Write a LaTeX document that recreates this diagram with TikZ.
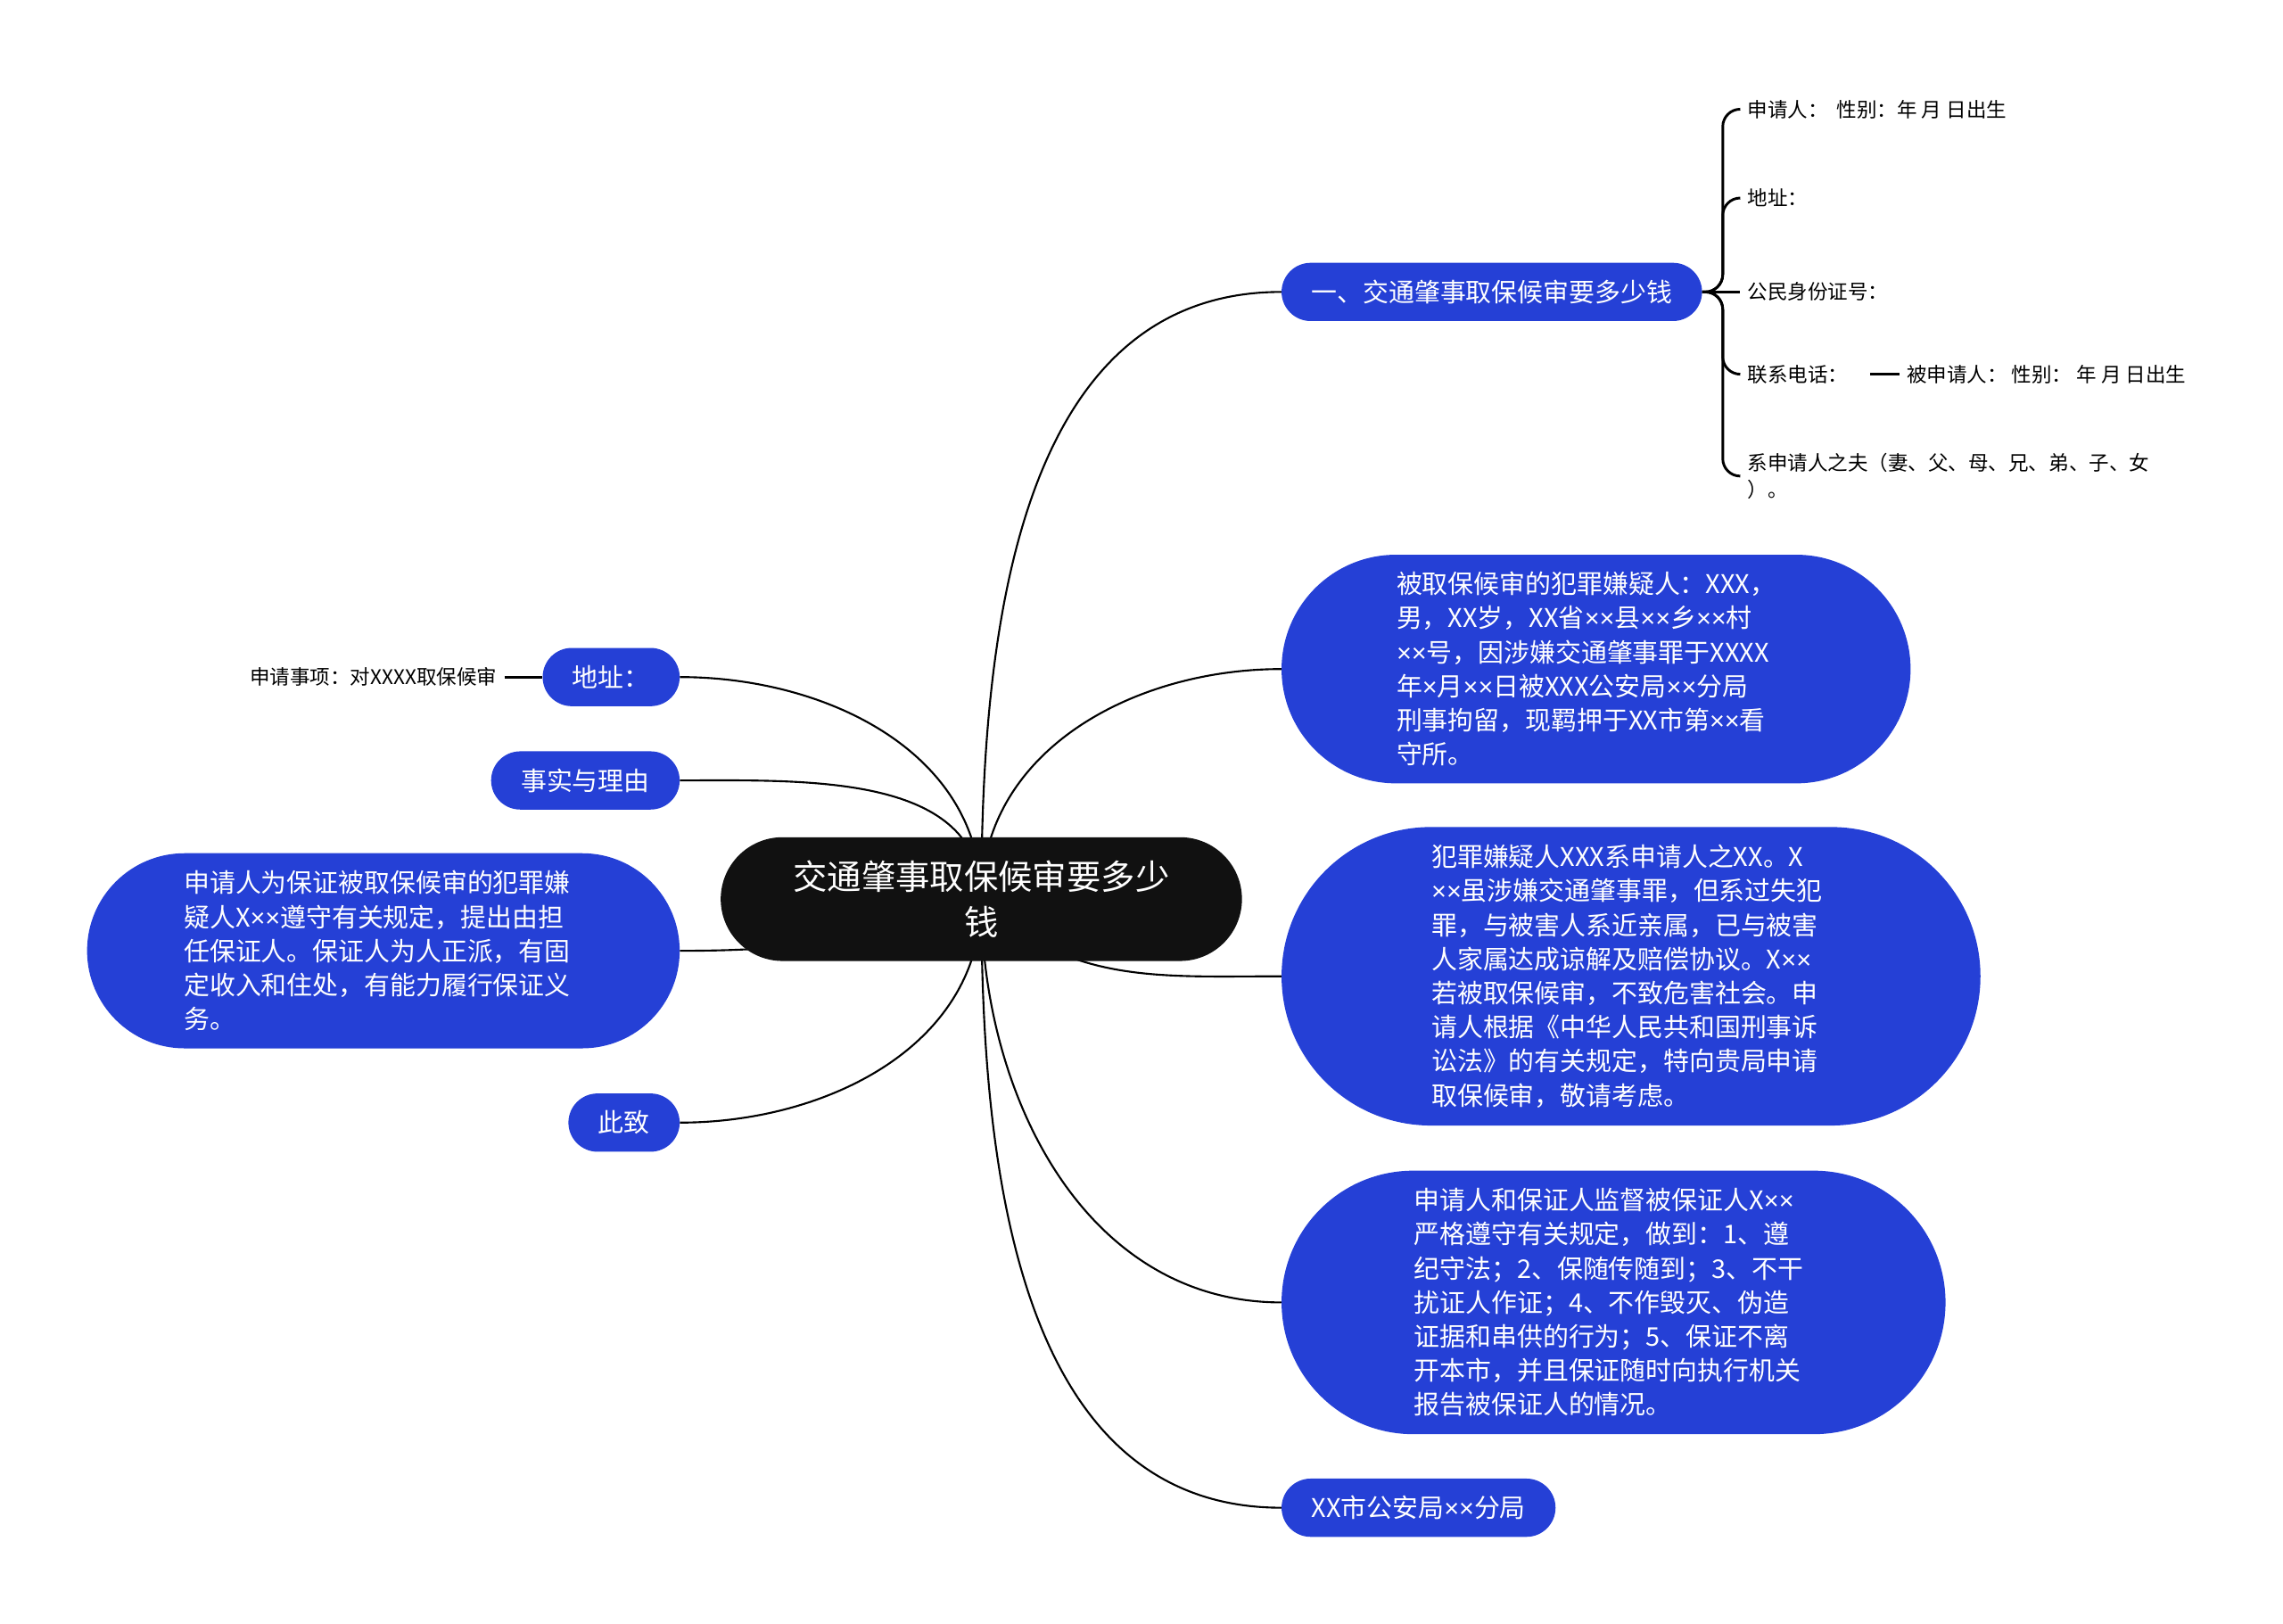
\documentclass[tikz,border=0pt]{standalone}
\usepackage{fontspec}
\newfontfamily\cjk{Noto Sans CJK SC}
\newfontfamily\lat{Liberation Sans}
\newcommand\mul{{\lat ×}}
\usetikzlibrary{positioning,backgrounds}
\definecolor{mapBlue}{RGB}{37,64,214}
\definecolor{mapBlack}{RGB}{17,17,17}
\tikzset{
  rootnode/.style={fill=mapBlack, text=white, align=center,
    font=\cjk\fontsize{23.5}{31}\selectfont, minimum width=358pt, minimum height=85pt,
    rounded corners=42.5pt, inner sep=0pt},
  topic/.style={fill=mapBlue, text=white, font=\cjk\fontsize{17.7}{23.4}\selectfont,
    minimum height=40pt, rounded corners=20pt, inner xsep=20.5pt, inner ysep=0pt},
  para/.style 2 args={topic, text width=274pt, align=left, inner xsep=0pt,
    minimum width=#1, minimum height=#2, rounded corners=#2/2},
  leaf/.style={font=\cjk\fontsize{13.8}{18}\selectfont, align=left, inner xsep=5pt, inner ysep=2pt},
  branch/.style={draw=black, line width=1.3pt},
  brace/.style={draw=black, line width=1.8pt, rounded corners=12pt}
}

\begin{document}
\begin{tikzpicture}[x=1pt,y=-1pt,node distance=26pt]
  \useasboundingbox (0,0) rectangle (1568,1115);
  \node[rootnode] (root) at (674,617.5) {交通肇事取保候审要多少\\钱};
  \node[topic,anchor=west] (r1) at (880,200.5) {一、交通肇事取保候审要多少钱};
  \node[para={432pt}{157pt},anchor=west] (r2) at (880,459.5) {被取保候审的犯罪嫌疑人：XXX，\\
    男，XX岁，XX省\mul\mul 县\mul\mul 乡\mul\mul 村\\\mul\mul 号，因涉嫌交通肇事罪于XXXX\\
    年\mul 月\mul\mul 日被XXX公安局\mul\mul 分局\\刑事拘留，现羁押于XX市第\mul\mul 看\\守所。};
  \node[para={480pt}{205pt},anchor=west] (r3) at (880,670.5) {犯罪嫌疑人XXX系申请人之XX。X\\
    \mul\mul 虽涉嫌交通肇事罪，但系过失犯\\罪，与被害人系近亲属，已与被害\\
    人家属达成谅解及赔偿协议。X\mul\mul\\若被取保候审，不致危害社会。申\\
    请人根据《中华人民共和国刑事诉\\讼法》的有关规定，特向贵局申请\\取保候审，敬请考虑。};
  \node[para={456pt}{181pt},anchor=west] (r4) at (880,894.5) {申请人和保证人监督被保证人X\mul\mul\\
    严格遵守有关规定，做到：1、遵\\纪守法；2、保随传随到；3、不干\\
    扰证人作证；4、不作毁灭、伪造\\证据和串供的行为；5、保证不离\\
    开本市，并且保证随时向执行机关\\报告被保证人的情况。};
  \node[topic,anchor=west] (r5) at (880,1035.5) {XX市公安局\mul\mul 分局};

  \node[topic,anchor=east] (l1) at (467,465) {地址：};
  \node[topic,anchor=east] (l2) at (467,536) {事实与理由};
  \node[para={407pt}{134pt},anchor=east] (l3) at (467,653) {申请人为保证被取保候审的犯罪嫌\\
    疑人X\mul\mul 遵守有关规定，提出由担\\任保证人。保证人为人正派，有固\\
    定收入和住处，有能力履行保证义\\务。};
  \node[topic,anchor=east] (l4) at (467,771) {此致};
  \node[leaf,left=of l1] (l1a) {申请事项：对XXXX取保候审};

  \node[leaf,anchor=west] (r1a) at (1195,75) {申请人：\ \ 性别：年 月 日出生};
  \node[leaf,anchor=west] (r1b) at (1195,136) {地址：};
  \node[leaf,anchor=west] (r1c) at (1195,200.5) {公民身份证号：};
  \node[leaf,anchor=west] (r1d) at (1195,257) {联系电话：};
  \node[leaf,anchor=west] (r1f) at (1195,327) {系申请人之夫（妻、父、母、兄、弟、子、女\\）。};
  \node[leaf,right=30pt of r1d] (r1e) {被申请人： 性别： 年 月 日出生};

  \begin{scope}[on background layer]
    \draw[branch] (root.center) to[out=90,in=180] (r1.west);
    \draw[branch] (root.center) to[out=90,in=180] (r2.west);
    \draw[branch] (root.center) to[out=-45,in=180] (r3.west);
    \draw[branch] (root.center) to[out=-90,in=180] (r4.west);
    \draw[branch] (root.center) to[out=-90,in=180] (r5.west);
    \draw[branch] (root.center) to[out=90,in=0] (l1.east);
    \draw[branch] (root.center) to[out=90,in=0] (l2.east);
    \draw[branch] (root.center) to[out=200,in=0] (l3.east);
    \draw[branch] (root.center) to[out=-90,in=0] (l4.east);
  \end{scope}

  \draw[brace] (l1a.east) -- (l1.west);
  \draw[brace] (r1.east) -- ++(14,0) |- (r1a.west);
  \draw[brace] (r1.east) -- ++(14,0) |- (r1b.west);
  \draw[brace] (r1.east) -- (r1c.west);
  \draw[brace] (r1.east) -- ++(14,0) |- (r1d.west);
  \draw[brace] (r1.east) -- ++(14,0) |- (r1f.west);
  \draw[brace,shorten <=10pt] (r1d.east) -- (r1e.west);
\end{tikzpicture}
\end{document}
